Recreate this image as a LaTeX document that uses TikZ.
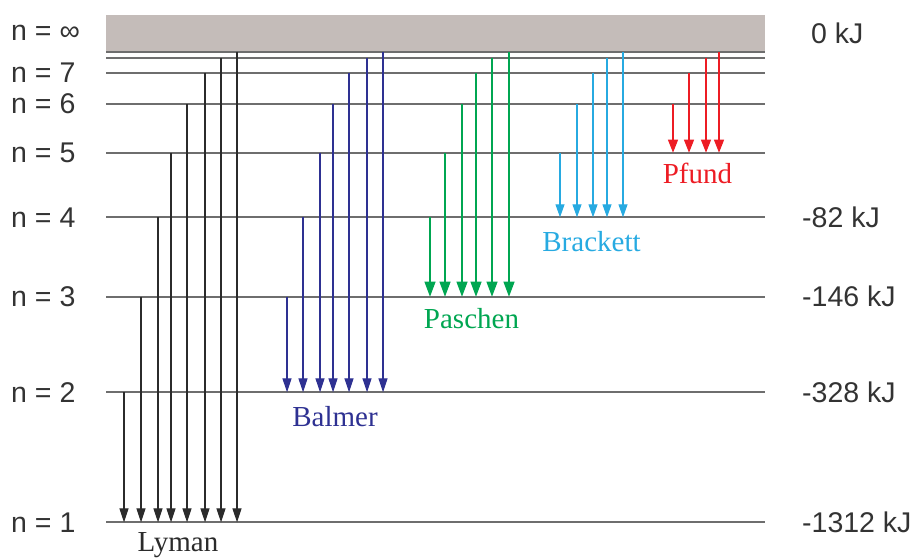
\documentclass[tikz,border=0pt]{standalone}
\usepackage{fontspec}
\setmainfont{Liberation Serif}
\setsansfont{Liberation Sans}
\usepackage{tikz}
\usetikzlibrary{arrows.meta}

\definecolor{boxgray}{HTML}{C4BCB9}
\definecolor{lvlgray}{HTML}{6E6E6E}
\definecolor{labgray}{HTML}{333333}
\definecolor{lymancol}{HTML}{2B2B2B}
\definecolor{balmercol}{HTML}{2E3192}
\definecolor{paschencol}{HTML}{00A651}
\definecolor{brackettcol}{HTML}{27AAE1}
\definecolor{pfundcol}{HTML}{ED1C24}

\begin{document}
\begin{tikzpicture}[x=1pt,y=-1pt,
    lvl/.style={draw=lvlgray,line width=1.8pt},
    trans/.style={line width=1.1pt,-{Triangle[width=9pt,length=14pt]}},
    series/.style={font=\fontsize{29}{32}\selectfont,anchor=base,inner sep=0pt},
    nlab/.style={font=\sffamily\fontsize{28.5}{32}\selectfont,anchor=west,inner sep=0pt,text=labgray},
    elab/.style={font=\sffamily\fontsize{28.5}{32}\selectfont,anchor=west,inner sep=0pt,text=labgray}]
  \useasboundingbox (0,0) rectangle (917,558);
  % continuum
  \fill[boxgray] (106,15) rectangle (765,51.7);
  % energy levels
  \foreach \n/\y in {inf/51.7,8/57.7,7/72.7,6/104,5/152.7,4/217.3,3/296.7,2/392.3,1/522.3}
    \draw[lvl] (106,\y) coordinate (l\n) -- (765,\y) coordinate (r\n);
  % Lyman
  \foreach \x/\from in {124/2,141/3,158/4,171/5,187/6,205/7,221/8,237/inf}
    \draw[trans,lymancol] (\x,0 |- l\from) -- (\x,0 |- l1);
  % Balmer
  \foreach \x/\from in {287/3,303/4,320/5,333/6,349/7,367/8,383/inf}
    \draw[trans,balmercol] (\x,0 |- l\from) -- (\x,0 |- l2);
  % Paschen
  \foreach \x/\from in {430/4,445/5,462/6,476/7,492/8,509/inf}
    \draw[trans,paschencol,-{Triangle[width=11pt,length=15pt]}] (\x,0 |- l\from) -- (\x,0 |- l3);
  % Brackett
  \foreach \x/\from in {560/5,577/6,593/7,607/8,623/inf}
    \draw[trans,brackettcol,-{Triangle[width=9pt,length=13pt]}] (\x,0 |- l\from) -- (\x,0 |- l4);
  % Pfund
  \foreach \x/\from in {673/6,689/7,706/8,719/inf}
    \draw[trans,pfundcol,-{Triangle[width=10pt,length=13pt]}] (\x,0 |- l\from) -- (\x,0 |- l5);
  % series names
  \node[series,text=lymancol] (lyman) at (178,551) {Lyman};
  \node[series,text=balmercol] (balmer) at (335,426) {Balmer};
  \node[series,text=paschencol] (paschen) at (471.5,328) {Paschen};
  \node[series,text=brackettcol] (brackett) at (591.5,251.5) {Brackett};
  \node[series,text=pfundcol] (pfund) at (697.5,183) {Pfund};
  % quantum numbers
  \node[nlab] (ninf) at (11,33) {n = ∞};
  \foreach \n in {7,6,5,4,3,2,1}
    \node[nlab] (n\n) at (11,0 |- l\n) {n = \n};
  % energies
  \node[elab] (e0) at (811,33) {0 kJ};
  \node[elab] (e4) at (802,0 |- r4) {-82 kJ};
  \node[elab] (e3) at (802,0 |- r3) {-146 kJ};
  \node[elab] (e2) at (802,0 |- r2) {-328 kJ};
  \node[elab] (e1) at (802,0 |- r1) {-1312 kJ};
\end{tikzpicture}
\end{document}
